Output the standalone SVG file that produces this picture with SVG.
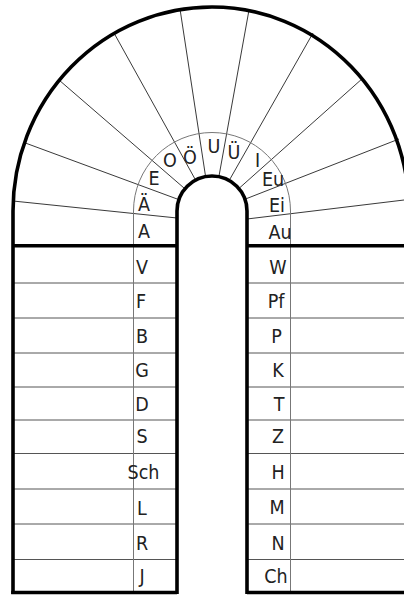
<svg xmlns="http://www.w3.org/2000/svg" width="404" height="596" viewBox="0 0 404 596">
<style>
.thick{fill:none;stroke:#000;stroke-width:3.6}
.rad{stroke:#222;stroke-width:0.9}
.ring{fill:none;stroke:#777;stroke-width:1}
.row{stroke:#555;stroke-width:1}
text{font-family:"DejaVu Sans Condensed","Liberation Sans Narrow","Liberation Sans",sans-serif;font-size:19.5px;fill:#222;text-anchor:middle}
</style>
<rect width="404" height="596" fill="#fff"/>
<g id="connectors">
<g id="radials">
<line class="rad" x1="13" y1="201" x2="177" y2="218"/>
<line class="rad" x1="24" y1="142.5" x2="178.5" y2="199.5"/>
<line class="rad" x1="59" y1="80" x2="184" y2="188"/>
<line class="rad" x1="114" y1="33" x2="195" y2="179"/>
<line class="rad" x1="180" y1="9" x2="205.5" y2="176"/>
<line class="rad" x1="249" y1="10" x2="219" y2="176"/>
<line class="rad" x1="313" y1="33" x2="230" y2="179"/>
<line class="rad" x1="363" y1="78" x2="240" y2="187.5"/>
<line class="rad" x1="399" y1="139" x2="245.5" y2="199"/>
<line class="rad" x1="404" y1="200" x2="247" y2="219"/>
</g>
<g id="rows">
<path class="row" d="M13 283H177M13 318H177M13 353H177M13 387H177M13 420H177M13 453.5H177M13 489H177M13 524H177M13 559.5H177"/>
<path class="row" d="M247 283H404M247 318H404M247 353H404M247 387H404M247 420H404M247 453.5H404M247 489H404M247 524H404M247 559.5H404"/>
</g>
<path id="ring" class="ring" d="M133.5 592V211A78.5 78.5 0 0 1 290.5 211V592"/>
</g>
<g id="outline">
<path class="thick" d="M13 594V211A199 204 0 0 1 212 7A197 204 0 0 1 409 211"/>
<path class="thick" d="M177 594V211A35 35 0 0 1 247 211V594"/>
<path class="thick" d="M13 245.7H177M247 245.7H404M11.2 592.5H177M247 592.5H404"/>
</g>
<g id="arc-letters">
<g id="n-A"><text x="144" y="238">A</text></g>
<g id="n-Ae"><text x="144" y="211">Ä</text></g>
<g id="n-E"><text x="154" y="185">E</text></g>
<g id="n-O"><text x="170" y="167">O</text></g>
<g id="n-Oe"><text x="190" y="163.5">Ö</text></g>
<g id="n-U"><text x="214" y="153">U</text></g>
<g id="n-Ue"><text x="234" y="159">Ü</text></g>
<g id="n-I"><text x="257.5" y="167">I</text></g>
<g id="n-Eu"><text x="273" y="186">Eu</text></g>
<g id="n-Ei"><text x="277" y="212">Ei</text></g>
<g id="n-Au"><text x="280" y="239">Au</text></g>
</g>
<g id="left-letters">
<g id="n-V"><text x="142" y="274">V</text></g>
<g id="n-F"><text x="141" y="307.5">F</text></g>
<g id="n-B"><text x="142" y="343">B</text></g>
<g id="n-G"><text x="142" y="377">G</text></g>
<g id="n-D"><text x="142" y="410.5">D</text></g>
<g id="n-S"><text x="142" y="443">S</text></g>
<g id="n-Sch"><text x="143.5" y="478.5">Sch</text></g>
<g id="n-L"><text x="142" y="514.5">L</text></g>
<g id="n-R"><text x="142" y="549.5">R</text></g>
<g id="n-J"><text x="142" y="583">J</text></g>
</g>
<g id="right-letters">
<g id="n-W"><text x="278" y="274">W</text></g>
<g id="n-Pf"><text x="276" y="307.5">Pf</text></g>
<g id="n-P"><text x="276.5" y="343">P</text></g>
<g id="n-K"><text x="278" y="377">K</text></g>
<g id="n-T"><text x="279" y="410.5">T</text></g>
<g id="n-Z"><text x="278" y="443">Z</text></g>
<g id="n-H"><text x="278" y="478.5">H</text></g>
<g id="n-M"><text x="277" y="513.5">M</text></g>
<g id="n-N"><text x="278" y="549.5">N</text></g>
<g id="n-Ch"><text x="276" y="582.5">Ch</text></g>
</g>
</svg>
